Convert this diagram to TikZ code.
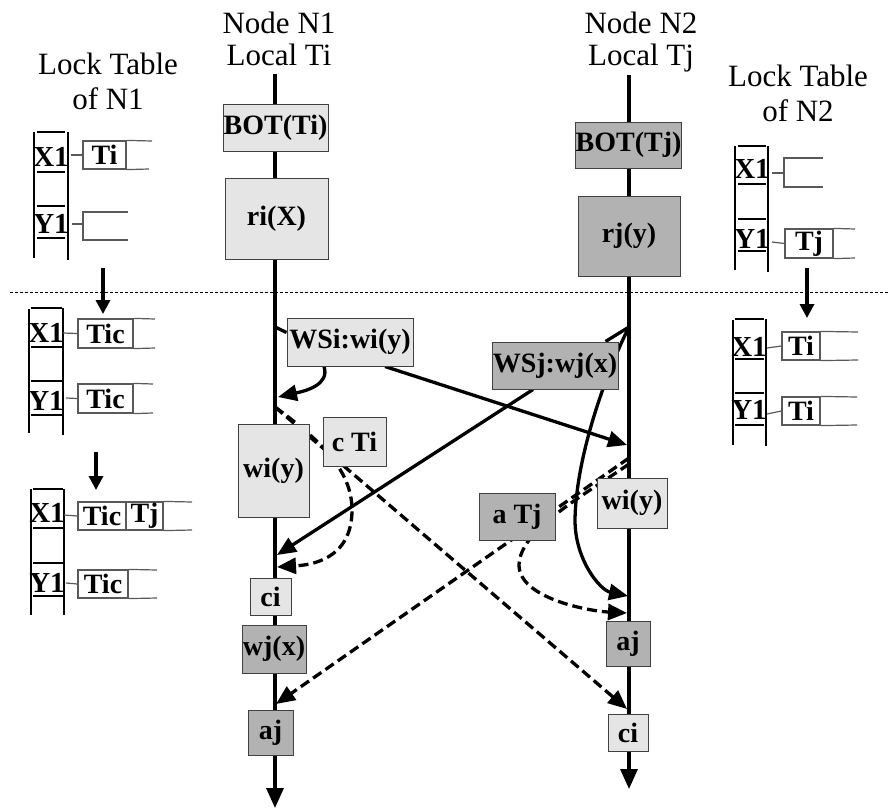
\documentclass[tikz,border=0pt]{standalone}
\usepackage{fontspec}
\setmainfont{Liberation Serif}
\usetikzlibrary{arrows.meta,calc}
\pgfdeclarelayer{bg}
\pgfsetlayers{bg,main}
\begin{document}
\begin{tikzpicture}[x=1pt,y=-1pt,
  tl/.style={line width=3.3pt},
  ar/.style={line width=3.3pt,-{Triangle[length=19pt,width=16pt]}},
  dar/.style={ar,dash pattern=on 10pt off 5pt},
  sar/.style={line width=3.3pt,-{Triangle[length=14pt,width=14pt]}},
  lbox/.style={draw=black!75,line width=1pt,fill=black!10,inner sep=0pt,font=\bfseries\fontsize{28}{30}\selectfont},
  dbox/.style={lbox,fill=black!30},
  ttl/.style={font=\fontsize{31}{32}\selectfont,align=center,inner sep=0pt},
  ltt/.style={font=\fontsize{31}{35}\selectfont,align=center,inner sep=0pt},
  lab/.style={font=\bfseries\fontsize{29}{30}\selectfont,inner sep=0pt,anchor=base},
  ent/.style={draw=black!65,line width=1.2pt,inner sep=0pt,minimum height=28pt,font=\bfseries\fontsize{28}{30}\selectfont},
  ltv/.style={line width=1.5pt},
  ltl/.style={line width=1.2pt,draw=black!65},
  sep/.style={line width=1pt,dash pattern=on 3pt off 2pt}]
\useasboundingbox (0,0) rectangle (888,808);

% titles
\node[ttl] (hn1) at (279,38.5) {Node N1\\Local Ti};
\node[ttl] (hn2) at (641,42) {Node N2\\Local Tj};
\node[ltt] (lt1) at (108,81) {Lock Table\\of N1};
\node[ltt] (lt2) at (798,93) {Lock Table\\of N2};

% separator
\draw[sep] (10,292) -- (888,292);

% boxes on N1
\node[lbox,minimum width=105pt,minimum height=47pt] (boti) at (275.5,127.5) {BOT(Ti)};
\node[lbox,minimum width=103pt,minimum height=81pt] (rix) at (276.5,218.5) {ri(X)};
\node[lbox,minimum width=126pt,minimum height=48pt] (wsi) at (350,342) {WSi:wi(y)};
\node[lbox,minimum width=63pt,minimum height=49pt] (cti) at (354.5,441.5) {c Ti};
\node[lbox,minimum width=71pt,minimum height=93pt] (wiy1) at (273.5,470.5) {wi(y)};
\node[lbox,minimum width=41pt,minimum height=37pt] (ci1) at (270.5,596.5) {ci};
\node[dbox,minimum width=64pt,minimum height=48pt] (wjx) at (274,649) {wj(x)};
\node[dbox,minimum width=45pt,minimum height=45pt] (aj1) at (270.5,732.5) {aj};

% boxes on N2
\node[dbox,minimum width=103pt,minimum height=46pt] (botj) at (628.5,145) {BOT(Tj)};
\node[dbox,minimum width=102pt,minimum height=80pt] (rjy) at (629,236) {rj(y)};
\node[dbox,minimum width=126pt,minimum height=47pt] (wsj) at (555,365.5) {WSj:wj(x)};
\node[dbox,minimum width=76pt,minimum height=47pt] (atj) at (517,516.5) {a Tj};
\node[lbox,minimum width=70pt,minimum height=50pt] (wiy2) at (632,503) {wi(y)};
\node[dbox,minimum width=44pt,minimum height=45pt] (aj2) at (628,643.5) {aj};
\node[lbox,minimum width=40pt,minimum height=37pt] (ci2) at (628,732.5) {ci};

% coordinates on the time lines
\coordinate (n1top) at (275,74);
\coordinate (n1end) at (275,808);
\coordinate (n2top) at (629,75);
\coordinate (n2end) at (629,789);
\coordinate (p1) at (275,327);
\coordinate (p2) at (629,327);
\coordinate (q1) at (275,407);
\coordinate (q2) at (629,458);
\coordinate (q2b) at (629,464);
\coordinate (e1) at (627,445);
\coordinate (e2) at (278,397);
\coordinate (e3) at (277,555);
\coordinate (e4) at (628,596);
\coordinate (e5) at (277,567);
\coordinate (e6) at (627,709);
\coordinate (e7) at (276,704);
\coordinate (e8) at (627,613);

\begin{pgfonlayer}{bg}
  \draw[ar,-{Triangle[length=20pt,width=17pt]}] (n1top) -- (n1end);
  \draw[ar,-{Triangle[length=20pt,width=17pt]}] (n2top) -- (n2end);
  \draw[tl] (p1) -- ($(wsi.north west)+(0,15)$);
  \draw[tl] (p2) -- ($(wsj.north east)+(-13,0)$);
  \draw[ar] ($(wsi.south)+(35,0)$) -- (e1);
  \draw[ar] ($(wsi.south)+(-26,0)$) .. controls (330,385) and (305,391) .. (e2);
  \draw[ar] ($(wsj.south)+(-22,0)$) -- (e3);
  \draw[ar] (p2) .. controls (612,360) and (576,450) .. (575,520) .. controls (575,560) and (600,590) .. (e4);
  \draw[dar] (q1) -- (e6);
  \draw[dar] (q1) .. controls (320,440) and (352,470) .. (352,510) .. controls (352,560) and (310,565) .. (e5);
  \draw[dar] (q2) -- (e7);
  \draw[dar] (q2b) .. controls (580,498) and (520,530) .. (519,565) .. controls (519,598) and (588,611) .. (e8);
\end{pgfonlayer}

% ---------- lock table N1, state 1
\draw[ltv] (34,132) -- (34,258) (68,132) -- (68,260);
\node[lab] (a1x) at (51,166) {X1};
\draw[ltv] (37,132) -- (65,132) (37,172) -- (65,172);
\node[lab] (a1y) at (51,233) {Y1};
\draw[ltv] (37,206) -- (65,206) (37,238) -- (65,238);
\node[ent,minimum width=43pt] (a1t) at (104.5,155) {Ti};
\draw[ltl] (71,155) -- (a1t.west);
\draw[ltl] (a1t.north east) -- (152,141) (a1t.south east) -- (149,169);
\coordinate (a1b) at (83,224);
\draw[ltl] (72,224) -- (a1b);
\draw[ltl] (128,212) -- (83,212) -- (83,240) -- (128,240);
\draw[sar] (103,268) -- (103,314);

% ---------- lock table N1, state 2
\draw[ltv] (29,309) -- (29,433) (63,308) -- (63,435);
\node[lab] (a2x) at (46,342) {X1};
\draw[ltv] (31,308) -- (62,308) (31,347) -- (62,347);
\node[lab] (a2y) at (46,410) {Y1};
\draw[ltv] (31,381) -- (62,381) (31,415) -- (62,415);
\node[ent,minimum width=55pt,minimum height=29pt] (a2t) at (105.5,333.5) {Tic};
\draw[ltl] (63,333) -- (a2t.west);
\draw[ltl] (a2t.north east) -- (155,319) (a2t.south east) -- (155,348);
\node[ent,minimum width=55pt,minimum height=29pt] (a2u) at (105.5,398.5) {Tic};
\draw[ltl] (66,398) -- (a2u.west);
\draw[ltl] (a2u.north east) -- (153,384) (a2u.south east) -- (153,413);
\draw[sar] (96,452) -- (96,490);

% ---------- lock table N1, state 3
\draw[ltv] (31,489) -- (31,615) (64,489) -- (64,615);
\node[lab] (a3x) at (47,522) {X1};
\draw[ltv] (33,489) -- (63,489) (33,528) -- (63,528);
\node[lab] (a3y) at (47,592) {Y1};
\draw[ltv] (33,563) -- (63,563) (33,596) -- (63,596);
\node[ent,minimum width=48pt] (a3t) at (102,516) {Tic};
\node[ent,minimum width=37pt] (a3j) at (144.5,516) {Tj};
\draw[ltl] (64,515) -- (a3t.west);
\draw[ltl] (a3j.north east) -- (192,502) (a3j.south east) -- (192,530);
\node[ent,minimum width=50pt] (a3u) at (103,584) {Tic};
\draw[ltl] (66,583) -- (a3u.west);
\draw[ltl] (a3u.north east) -- (157,570) (a3u.south east) -- (157,598);

% ---------- lock table N2, state 1
\draw[ltv] (735,146) -- (735,270) (768,146) -- (768,272);
\node[lab] (b1x) at (752,178) {X1};
\draw[ltv] (738,146) -- (766,146) (738,184) -- (766,184);
\node[lab] (b1y) at (752,248) {Y1};
\draw[ltv] (738,219) -- (766,219) (738,251) -- (766,251);
\coordinate (b1b) at (784,173);
\draw[ltl] (772,173) -- (b1b);
\draw[ltl] (823,158) -- (784,158) -- (784,187) -- (823,187);
\node[ent,minimum width=48pt,minimum height=29pt] (b1t) at (809,243.5) {Tj};
\draw[ltl] (772,242) -- (b1t.west);
\draw[ltl] (b1t.north east) -- (855,229) (b1t.south east) -- (855,258);
\draw[sar] (807,268) -- (807,318);

% ---------- lock table N2, state 2
\draw[ltv] (733,320) -- (733,445) (766,319) -- (766,446);
\node[lab] (b2x) at (749,356) {X1};
\draw[ltv] (735,319) -- (764,319) (735,359) -- (764,359);
\node[lab] (b2y) at (749,419) {Y1};
\draw[ltv] (735,393) -- (764,393) (735,425) -- (764,425);
\node[ent,minimum width=38pt] (b2t) at (801,346) {Ti};
\draw[ltl] (767,348) -- (b2t.west);
\draw[ltl] (b2t.north east) -- (858,332) (b2t.south east) -- (858,360);
\node[ent,minimum width=38pt] (b2u) at (801,411) {Ti};
\draw[ltl] (767,414) -- (b2u.west);
\draw[ltl] (b2u.north east) -- (857,397) (b2u.south east) -- (857,425);
\end{tikzpicture}
\end{document}
